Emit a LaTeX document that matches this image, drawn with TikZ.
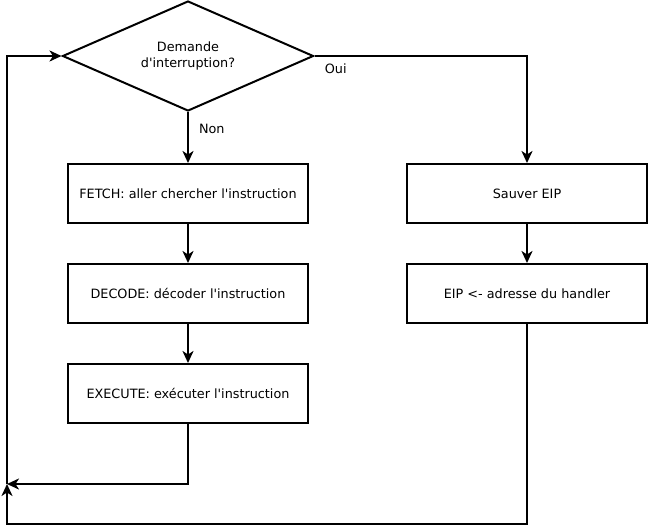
\documentclass[tikz,border=0pt]{standalone}
\usepackage{fontspec}
\setmainfont{DejaVu Sans}[Ligatures=TeXOff]
\usepackage{tikz}
\usetikzlibrary{shapes.geometric, arrows.meta, positioning}

\begin{document}
\begin{tikzpicture}[x=1pt, y=-1pt, font=\fontsize{12.8}{16}\selectfont]
\tikzstyle{decision} = [diamond, draw, line width=2pt, aspect=2.26, minimum width=251pt, minimum height=110pt, inner sep=0pt, text width=4cm, text centered]
\tikzstyle{block} = [rectangle, draw, line width=2pt, minimum width=240pt, minimum height=59pt, text centered]
\tikzstyle{arrow} = [line width=2pt, -{Stealth[length=12pt, width=11pt, inset=3.5pt]}]
\tikzstyle{label} = [inner sep=0pt]

\useasboundingbox (0,0) rectangle (650,527);

\node (dia) [decision] at (188,56) {Demande\\d'interruption?};

\node (fetch) [block, below=51pt of dia] {FETCH: aller chercher l'instruction};
\node (decode) [block, below=39pt of fetch] {DECODE: d\'ecoder l'instruction};
\node (execute) [block, below=39pt of decode] {EXECUTE: ex\'ecuter l'instruction};

\node (sauver) [block, right=97pt of fetch] {Sauver EIP};
\node (eip) [block, below=39pt of sauver] {EIP <- adresse du handler};

\coordinate (retour) at (7,484);
\coordinate (bas) at (7,524);

\draw [arrow] (dia.south) -- node[label, pos=0.33, right=10pt] {Non} (fetch.north);
\draw [arrow] (fetch) -- (decode);
\draw [arrow] (decode) -- (execute);
\draw [arrow] (dia.east) -| node[label, pos=0.05, below=7pt] {Oui} (sauver.north);
\draw [arrow] (sauver) -- (eip);
\draw [arrow] (execute.south) |- (retour);
\draw [arrow] (eip.south) |- (bas) -- (retour);
\draw [arrow] (retour) |- (dia.west);

\end{tikzpicture}
\end{document}
